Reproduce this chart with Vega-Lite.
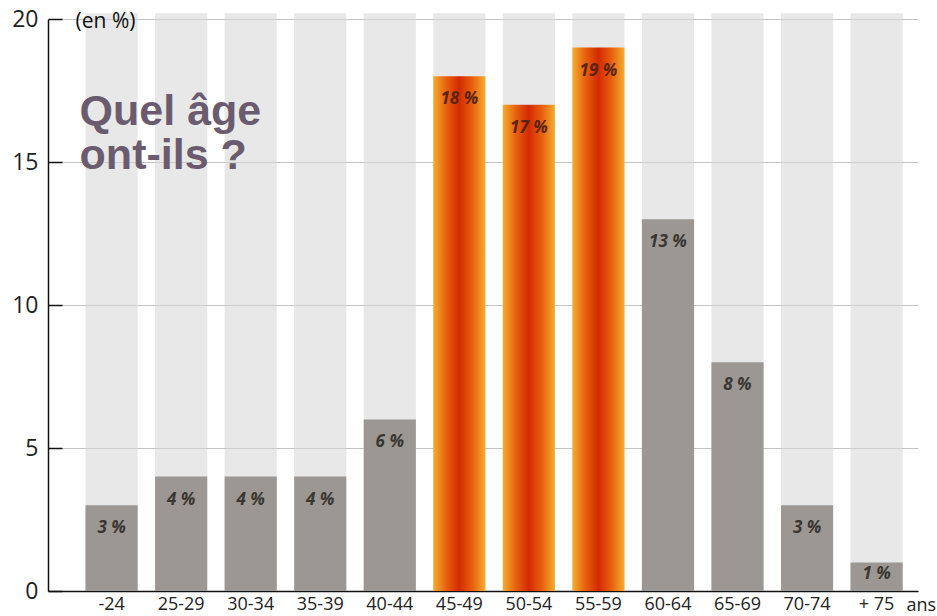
{
  "$schema": "https://vega.github.io/schema/vega-lite/v6.json",
  "width": 870,
  "height": 572,
  "autosize": {"type": "none"},
  "padding": {"left": 48, "top": 19, "right": 19, "bottom": 25},
  "background": "white",
  "config": {
    "view": {"stroke": null},
    "font": "Open Sans",
    "axisY": {
      "grid": true,
      "gridColor": "#c4c4c4",
      "gridWidth": 1,
      "domainColor": "#111",
      "domainWidth": 1.5,
      "ticks": true,
      "tickColor": "#111",
      "tickOpacity": 1,
      "tickWidth": 1.5,
      "tickSize": -14,
      "labelFontSize": 23,
      "labelColor": "#222",
      "labelPadding": 24
    },
    "axisX": {
      "labelAngle": 0,
      "labelFontSize": 18,
      "labelColor": "#222",
      "labelPadding": 4,
      "ticks": false,
      "grid": false,
      "domainColor": "#111",
      "domainWidth": 1.5,
      "titleX": 858,
      "titleY": 14,
      "titleAlign": "left",
      "titleBaseline": "middle",
      "titleFontSize": 18,
      "titleFontWeight": "normal",
      "titleColor": "#222"
    }
  },
  "data": {
    "values": [
      {"age": "-24", "pct": 3, "label": "3 %", "group": "gray"},
      {"age": "25-29", "pct": 4, "label": "4 %", "group": "gray"},
      {"age": "30-34", "pct": 4, "label": "4 %", "group": "gray"},
      {"age": "35-39", "pct": 4, "label": "4 %", "group": "gray"},
      {"age": "40-44", "pct": 6, "label": "6 %", "group": "gray"},
      {"age": "45-49", "pct": 18, "label": "18 %", "group": "hot"},
      {"age": "50-54", "pct": 17, "label": "17 %", "group": "hot"},
      {"age": "55-59", "pct": 19, "label": "19 %", "group": "hot"},
      {"age": "60-64", "pct": 13, "label": "13 %", "group": "gray"},
      {"age": "65-69", "pct": 8, "label": "8 %", "group": "gray"},
      {"age": "70-74", "pct": 3, "label": "3 %", "group": "gray"},
      {"age": "+ 75", "pct": 1, "label": "1 %", "group": "gray"}
    ]
  },
  "encoding": {
    "x": {
      "field": "age",
      "type": "nominal",
      "sort": null,
      "scale": {"paddingInner": 0.25, "paddingOuter": 0.38, "align": 0.71},
      "axis": {"title": "ans"}
    }
  },
  "layer": [
    {
      "mark": {"type": "bar", "color": "#d6d6d6", "opacity": 0.55, "clip": false},
      "encoding": {
        "y": {
          "datum": 20.2,
          "type": "quantitative",
          "scale": {"domain": [0, 20], "nice": false},
          "axis": {"values": [0, 5, 10, 15, 20], "title": null, "ticks": true, "tickSize": -14, "tickColor": "#111", "tickWidth": 1.5}
        }
      }
    },
    {
      "transform": [{"filter": "datum.group === 'gray'"}],
      "mark": {"type": "bar", "color": "#9c9792"},
      "encoding": {"y": {"field": "pct", "type": "quantitative", "axis": {"values": [0, 5, 10, 15, 20], "title": null, "ticks": true, "tickSize": -14, "tickColor": "#111", "tickWidth": 1.5}}}
    },
    {
      "transform": [{"filter": "datum.group === 'hot'"}],
      "mark": {
        "type": "bar",
        "color": {
          "gradient": "linear",
          "x1": 0, "x2": 1, "y1": 0, "y2": 0,
          "stops": [
            {"offset": 0, "color": "#f4ad30"},
            {"offset": 0.25, "color": "#e8600e"},
            {"offset": 0.5, "color": "#d42a02"},
            {"offset": 0.75, "color": "#e8600e"},
            {"offset": 1, "color": "#f4ad30"}
          ]
        }
      },
      "encoding": {"y": {"field": "pct", "type": "quantitative", "axis": {"values": [0, 5, 10, 15, 20], "title": null, "ticks": true, "tickSize": -14, "tickColor": "#111", "tickWidth": 1.5}}}
    },
    {
      "transform": [{"filter": "datum.pct > 1"}],
      "mark": {
        "type": "text",
        "fontSize": 17,
        "fontStyle": "italic",
        "fontWeight": "bold",
        "baseline": "middle",
        "dy": 23
      },
      "encoding": {
        "y": {"field": "pct", "type": "quantitative", "axis": {"values": [0, 5, 10, 15, 20], "title": null, "ticks": true, "tickSize": -14, "tickColor": "#111", "tickWidth": 1.5}},
        "text": {"field": "label"},
        "color": {
          "condition": {"test": "datum.group === 'hot'", "value": "#5a2412"},
          "value": "#3a3632"
        }
      }
    },
    {
      "transform": [{"filter": "datum.pct <= 1"}],
      "mark": {
        "type": "text",
        "fontSize": 17,
        "fontStyle": "italic",
        "fontWeight": "bold",
        "baseline": "middle",
        "dy": 12,
        "color": "#3a3632"
      },
      "encoding": {
        "y": {"field": "pct", "type": "quantitative", "axis": {"values": [0, 5, 10, 15, 20], "title": null, "ticks": true, "tickSize": -14, "tickColor": "#111", "tickWidth": 1.5}},
        "text": {"field": "label"}
      }
    },
    {
      "data": {"values": [{"kind": "unit"}]},
      "mark": {
        "type": "text",
        "fontSize": 21,
        "align": "left",
        "baseline": "middle",
        "dx": -36,
        "dy": 3,
        "color": "#111"
      },
      "encoding": {
        "x": {"datum": "-24"},
        "y": {"datum": 20, "type": "quantitative", "axis": {"values": [0, 5, 10, 15, 20], "title": null, "ticks": true, "tickSize": -14, "tickColor": "#111", "tickWidth": 1.5}},
        "text": {"value": "(en %)"}
      }
    },
    {
      "data": {"values": [{"kind": "title"}]},
      "mark": {
        "type": "text",
        "font": "Liberation Sans",
        "fontSize": 43,
        "fontWeight": "bold",
        "align": "left",
        "baseline": "top",
        "lineHeight": 44,
        "dx": -32,
        "color": "#6a5c6e"
      },
      "encoding": {
        "x": {"datum": "-24"},
        "y": {"datum": 17.5, "type": "quantitative", "axis": {"values": [0, 5, 10, 15, 20], "title": null, "ticks": true, "tickSize": -14, "tickColor": "#111", "tickWidth": 1.5}},
        "text": {"value": ["Quel âge", "ont-ils ?"]}
      }
    }
  ]
}
